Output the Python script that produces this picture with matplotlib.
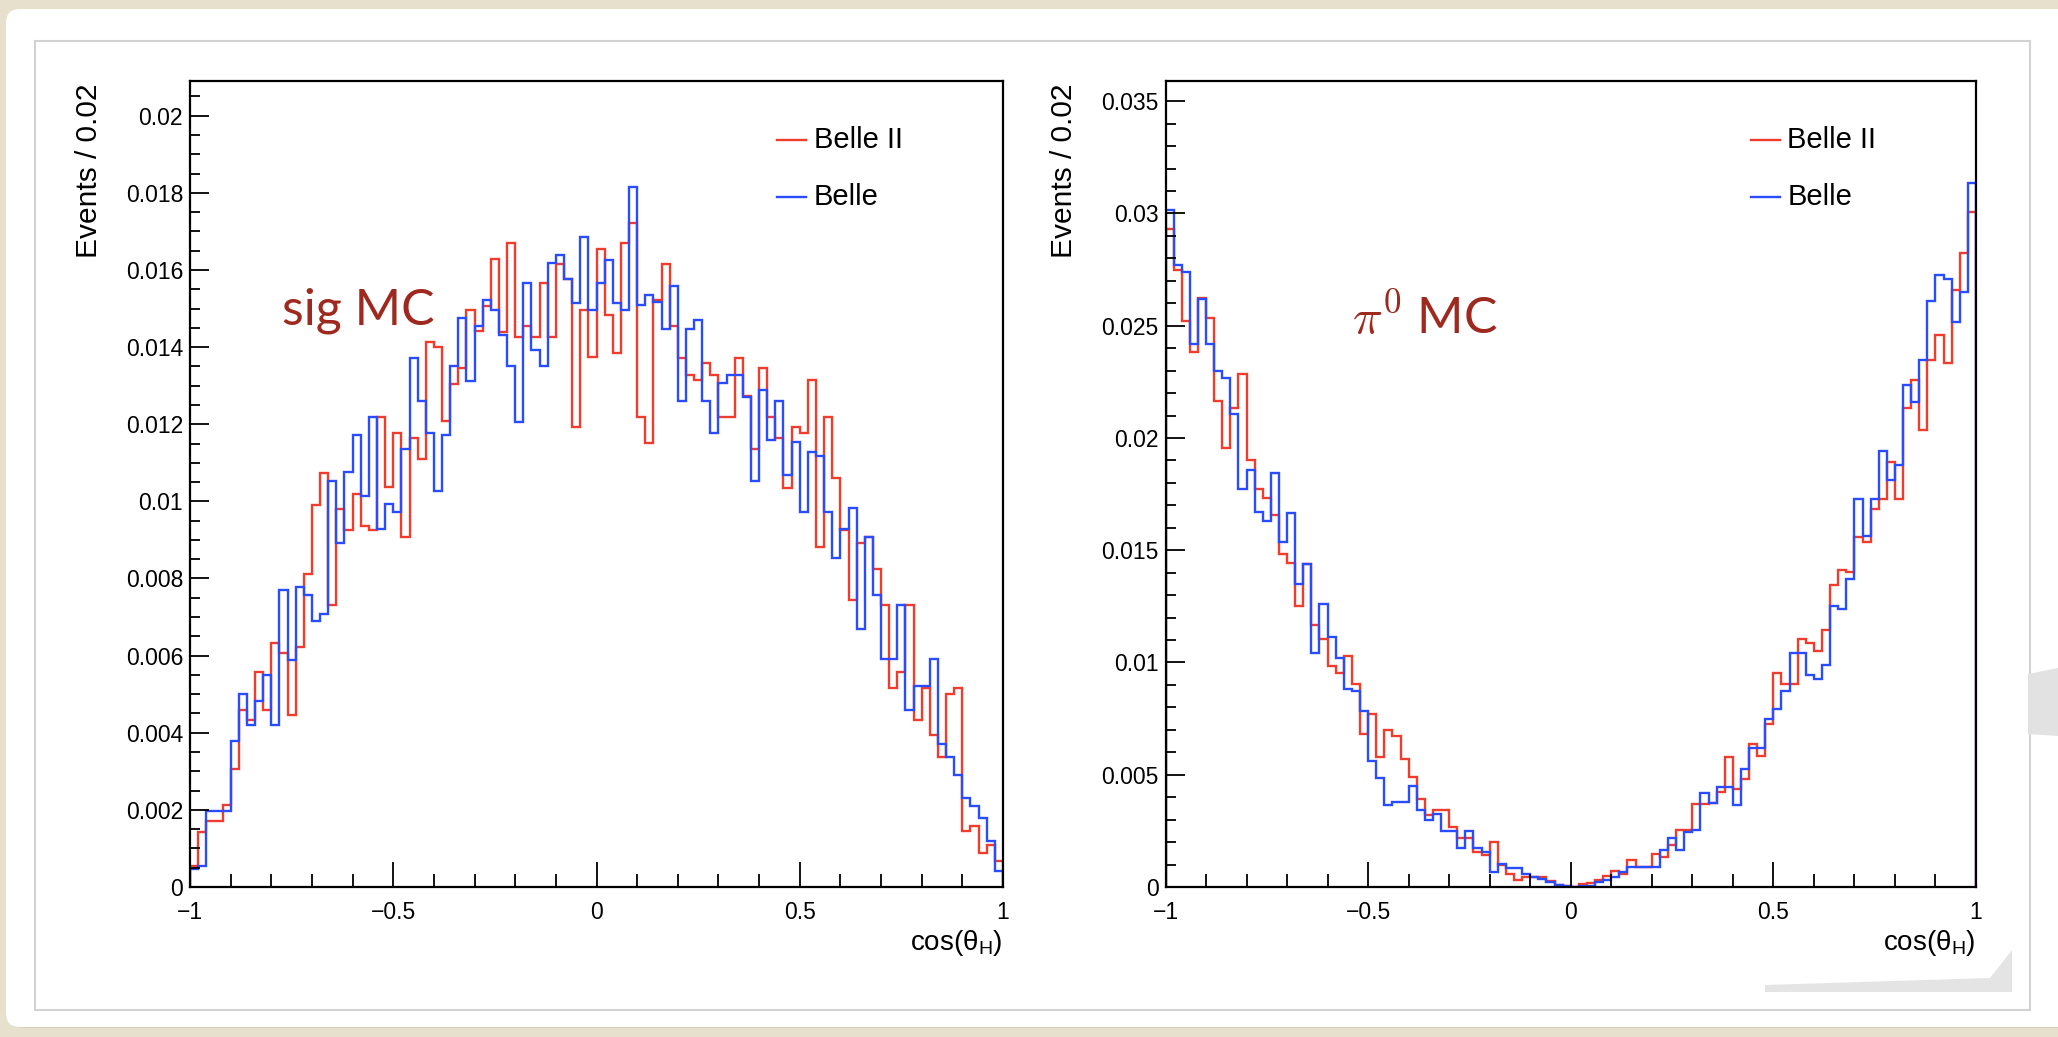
import numpy as np
import matplotlib.pyplot as plt
from matplotlib.patches import FancyBboxPatch, Rectangle, Polygon
from matplotlib.ticker import MultipleLocator, FuncFormatter

plt.rcParams['font.family'] = ['Liberation Sans', 'DejaVu Sans']
plt.rcParams['mathtext.fontset'] = 'custom'
plt.rcParams['mathtext.rm'] = 'Liberation Sans'
plt.rcParams['mathtext.it'] = 'Liberation Sans:italic'

# 100 bins of width 0.02 in cos(theta_H), contents in units of 1e-3
edges = np.linspace(-1, 1, 101)

sig_belle2 = [
    0.54, 1.42, 1.72, 1.72, 2.12, 3.07, 4.59, 4.32, 5.57, 4.59,
    6.32, 6.08, 4.46, 6.22, 8.11, 9.91, 10.74, 7.30, 9.80, 9.26,
    10.20, 9.36, 9.26, 12.19, 10.36, 11.78, 9.08, 11.65, 11.11, 14.12,
    13.99, 12.09, 13.04, 13.45, 14.96, 14.42, 15.07, 16.28, 14.39, 16.69,
    14.26, 14.55, 14.26, 15.65, 14.26, 16.15, 15.77, 11.92, 14.96, 13.74,
    16.55, 14.82, 13.85, 16.69, 17.23, 12.19, 11.51, 15.23, 16.15, 14.55,
    13.72, 13.28, 13.15, 13.58, 13.28, 12.20, 12.20, 13.72, 12.73, 11.35,
    13.45, 12.19, 11.65, 10.34, 11.92, 11.78, 13.15, 8.81, 12.19, 10.61,
    9.26, 7.43, 8.92, 9.08, 8.24, 7.30, 5.16, 5.57, 7.30, 4.32,
    5.16, 3.95, 3.38, 5.00, 5.16, 1.45, 1.58, 0.88, 1.08, 0.68]

sig_belle = [
    0.47, 0.54, 1.96, 1.96, 1.96, 3.78, 5.00, 4.19, 4.82, 5.50,
    4.19, 7.70, 5.88, 7.77, 7.57, 6.89, 7.09, 10.54, 8.92, 10.77,
    11.72, 10.14, 12.19, 9.28, 9.93, 9.73, 11.35, 13.72, 12.61, 11.78,
    10.27, 11.72, 13.51, 14.76, 13.11, 14.55, 15.23, 14.96, 14.32, 13.51,
    12.05, 15.65, 13.92, 13.51, 16.19, 16.39, 15.77, 15.14, 16.85, 14.96,
    15.65, 16.26, 15.14, 14.96, 18.14, 15.09, 15.36, 15.16, 14.46, 15.58,
    12.61, 14.46, 14.69, 12.61, 11.76, 13.08, 13.28, 13.28, 12.70, 10.54,
    12.88, 11.58, 12.61, 10.68, 11.53, 9.72, 11.28, 11.18, 9.72, 8.54,
    9.28, 9.82, 6.69, 9.08, 7.57, 5.92, 5.92, 7.30, 4.59, 5.20,
    5.20, 5.92, 3.72, 3.38, 2.91, 2.32, 2.09, 1.78, 1.18, 0.41]

pi0_belle2 = [
    29.32, 27.50, 25.23, 23.83, 26.24, 25.35, 21.66, 19.56, 21.33, 22.85,
    19.04, 17.71, 17.34, 16.59, 14.84, 14.42, 12.50, 14.37, 11.68, 11.05,
    9.86, 9.51, 10.28, 9.04, 6.82, 7.71, 5.77, 7.01, 6.71, 5.72,
    4.91, 3.94, 3.20, 3.42, 3.42, 2.68, 2.20, 2.20, 1.56, 1.41,
    2.00, 0.97, 0.60, 0.30, 0.45, 0.45, 0.45, 0.25, 0.10, 0.03,
    0.00, 0.12, 0.18, 0.33, 0.49, 0.71, 0.60, 1.22, 0.89, 0.89,
    1.46, 1.34, 1.86, 2.53, 2.53, 3.69, 3.69, 3.74, 4.21, 5.77,
    4.37, 4.79, 6.38, 5.84, 7.24, 9.51, 9.04, 9.04, 11.03, 10.86,
    10.51, 11.45, 13.43, 14.14, 14.02, 15.58, 15.35, 16.82, 17.29, 18.93,
    17.29, 21.33, 22.59, 20.37, 23.48, 24.58, 23.36, 26.57, 28.22, 30.07]

pi0_belle = [
    30.14, 27.69, 27.41, 24.18, 26.17, 24.18, 22.97, 22.66, 21.07, 17.71,
    18.57, 16.71, 16.29, 18.46, 15.37, 16.66, 13.50, 14.37, 10.44, 12.62,
    11.14, 10.21, 8.81, 8.71, 7.83, 5.61, 4.86, 3.67, 3.79, 3.80,
    4.50, 3.42, 3.00, 3.23, 2.49, 2.49, 1.74, 2.49, 1.74, 1.56,
    0.67, 1.04, 0.85, 0.85, 0.60, 0.45, 0.37, 0.22, 0.07, 0.03,
    0.00, 0.04, 0.04, 0.22, 0.33, 0.45, 0.67, 0.89, 0.89, 0.89,
    0.89, 1.67, 2.20, 1.67, 2.46, 2.53, 4.20, 3.74, 4.44, 4.44,
    3.67, 5.26, 6.19, 6.19, 7.48, 7.94, 8.71, 10.44, 10.44, 9.46,
    9.28, 9.88, 12.50, 12.38, 13.71, 17.29, 15.65, 17.29, 19.44, 18.11,
    18.81, 22.38, 21.61, 23.48, 26.10, 27.27, 27.10, 25.16, 26.52, 31.36]

labels = ['Belle II', 'Belle']
red = '#f03c2c'
blue = '#2a4cff'
W, H = 2058, 1037

fig = plt.figure(figsize=(W / 100, H / 100), dpi=100)
fig.patch.set_facecolor('#e7e0cd')

# slide background drawn in pixel coordinates
bg = fig.add_axes([0, 0, 1, 1])
bg.set_xlim(0, W)
bg.set_ylim(H, 0)
bg.axis('off')
bg.add_patch(FancyBboxPatch((9, 12), W + 40, 1016, boxstyle='round,pad=0,rounding_size=14',
                            fc='#d6cfbd', ec='none'))
bg.add_patch(FancyBboxPatch((6, 9), W + 40, 1018, boxstyle='round,pad=0,rounding_size=14',
                            fc='white', ec='none'))
bg.add_patch(Rectangle((35, 41), 1995, 969, fill=False, ec='#d2d2d2', lw=1.5))
# page-curl shadow at the lower right
bg.add_patch(Polygon([[1765, 985], [1990, 978], [2012, 950], [2012, 992], [1765, 992]],
                     fc='#e4e4e4', ec='none'))
bg.add_patch(Polygon([[2028, 674], [2058, 668], [2058, 736], [2028, 734]],
                     fc='#e2e2e2', ec='none'))


def fmt(v, pos):
    return ('%g' % round(v, 6)).replace('-', '\u2212')


def style(ax, ymax, major, minor):
    ax.set_xlim(-1, 1)
    ax.set_ylim(0, ymax)
    ax.xaxis.set_major_locator(MultipleLocator(0.5))
    ax.xaxis.set_minor_locator(MultipleLocator(0.1))
    ax.yaxis.set_major_locator(MultipleLocator(major))
    ax.yaxis.set_minor_locator(MultipleLocator(minor))
    ax.xaxis.set_major_formatter(FuncFormatter(fmt))
    ax.yaxis.set_major_formatter(FuncFormatter(fmt))
    ax.tick_params(axis='x', which='major', direction='in', length=18, width=1.3,
                   labelsize=16.5, pad=10, top=False)
    ax.tick_params(axis='x', which='minor', direction='in', length=9.5, width=1.3, top=False)
    ax.tick_params(axis='y', which='major', direction='in', length=14, width=1.3,
                   labelsize=16.5, pad=5, right=False)
    ax.tick_params(axis='y', which='minor', direction='in', length=7, width=1.3, right=False)
    for s in ax.spines.values():
        s.set_linewidth(1.6)
    ax.set_facecolor('white')


panels = [
    (190, 813, sig_belle2, sig_belle, 0.0209, 0.002, 0.0005),
    (1165.5, 810.5, pi0_belle2, pi0_belle, 0.0359, 0.005, 0.001),
]
axes = []
for x0, w, h2, h1, ymax, major, minor in panels:
    ax = fig.add_axes([x0 / W, (H - 887) / H, w / W, 806 / H])
    style(ax, ymax, major, minor)
    ax.stairs(np.array(h2) * 1e-3, edges, color=red, lw=1.7)
    ax.stairs(np.array(h1) * 1e-3, edges, color=blue, lw=1.7)
    # legend without frame, ROOT style
    for yy, c, lab in [(0.927, red, labels[0]), (0.856, blue, labels[1])]:
        ax.plot([0.722, 0.758], [yy, yy], transform=ax.transAxes, color=c, lw=1.7)
        ax.text(0.767, yy, lab, transform=ax.transAxes, fontsize=21, va='center', ha='left')
    ax.text(1.0, -0.07, 'cos(\u03b8$_{\\mathrm{H}}$)', transform=ax.transAxes,
            fontsize=20, ha='right', va='center', math_fontfamily='custom')
    fig.text((x0 - 101) / W, 1 - 84 / H, 'Events / 0.02', rotation=90,
             fontsize=21.5, ha='center', va='top')
    axes.append(ax)

axes[0].text(0.113, 0.715, 'sig MC', transform=axes[0].transAxes, fontsize=36,
             color='#9e2a1f', family='Lato', va='center', ha='left')
axes[1].text(0.23, 0.706, r'$\pi^{0}$ MC', transform=axes[1].transAxes, fontsize=36,
             color='#9e2a1f', family='Lato', va='center', ha='left', math_fontfamily='cm')

fig.savefig('out.png', dpi=100, facecolor=fig.get_facecolor())
